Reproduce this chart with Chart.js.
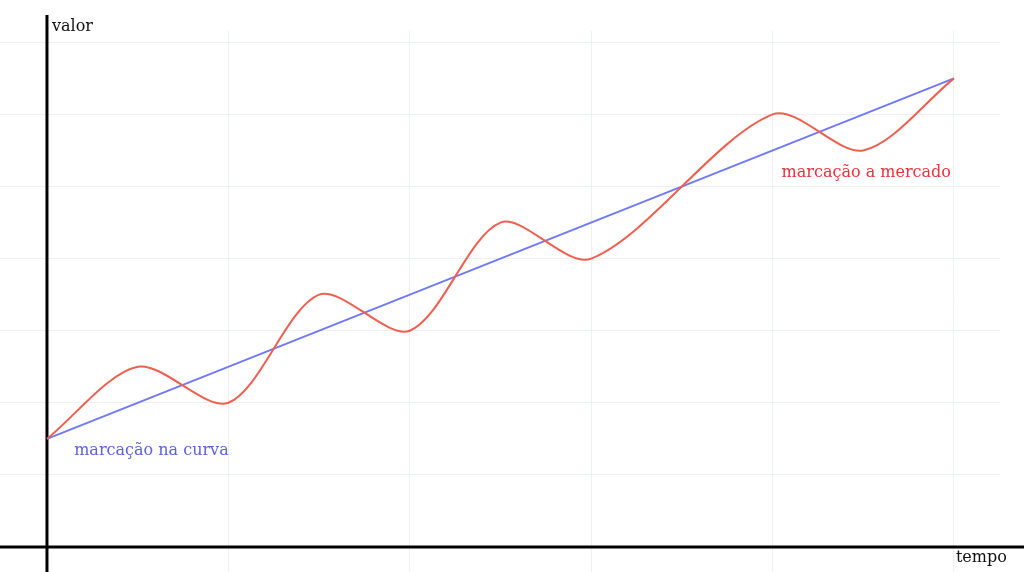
<!DOCTYPE html>
<html>
<head>
<meta charset="utf-8">
<script src="https://cdn.jsdelivr.net/npm/chart.js@4"></script>
<style>
html,body{margin:0;padding:0;background:#fff;}
#wrap{width:1024px;height:572px;position:relative;}
</style>
</head>
<body>
<div id="wrap"><canvas id="c" width="1024" height="572"></canvas></div>
<script>
// Data (grid units)
const marketX = [0, 0.5, 1, 1.5, 2, 2.5, 3, 4, 4.5, 5];
const marketY = [1.5, 2.5, 2, 3.5, 3, 4.5, 4, 6, 5.5, 6.5];
const curveX = [0, 5];
const curveY = [1.5, 6.5];
const labels = {
  yAxis: "valor",
  xAxis: "tempo",
  curve: "marcação na curva",
  market: "marcação a mercado"
};

const toPts = (xs, ys) => xs.map((x, i) => ({x: x, y: ys[i]}));

const FONT = '16px "DejaVu Serif", serif';

const overlay = {
  id: 'overlay',
  beforeDatasetsDraw(chart) {
    const {ctx, scales: {x, y}} = chart;
    const x0 = x.getPixelForValue(0), y0 = y.getPixelForValue(0);
    ctx.save();
    ctx.strokeStyle = '#000';
    ctx.lineWidth = 3;
    ctx.beginPath();
    ctx.moveTo(x0, 15); ctx.lineTo(x0, chart.height);
    ctx.moveTo(0, y0); ctx.lineTo(chart.width, y0);
    ctx.stroke();
    ctx.restore();
  },
  afterDraw(chart) {
    const {ctx, scales: {x, y}} = chart;
    const x0 = x.getPixelForValue(0), y0 = y.getPixelForValue(0);
    ctx.save();
    ctx.font = FONT;
    ctx.textBaseline = 'alphabetic';
    ctx.textAlign = 'left';
    ctx.fillStyle = '#111';
    ctx.fillText(labels.yAxis, x0 + 5, 31);
    ctx.fillText(labels.xAxis, x.getPixelForValue(5) + 2, y0 + 15);
    ctx.fillStyle = '#5b62dc';
    ctx.fillText(labels.curve, x.getPixelForValue(0.15), y.getPixelForValue(1.28));
    ctx.fillStyle = '#e8323c';
    ctx.fillText(labels.market, x.getPixelForValue(4.05), y.getPixelForValue(5.13));
    ctx.restore();
  }
};

new Chart(document.getElementById('c'), {
  type: 'scatter',
  data: {
    datasets: [
      {
        data: toPts(curveX, curveY),
        showLine: true,
        borderColor: '#7079f6',
        borderWidth: 2,
        pointRadius: 0,
        order: 2
      },
      {
        data: toPts(marketX, marketY),
        showLine: true,
        borderColor: '#ef5f4f',
        borderWidth: 2,
        pointRadius: 0,
        tension: 0.3,
        order: 1
      }
    ]
  },
  options: {
    responsive: false,
    animation: false,
    events: [],
    layout: {padding: {top: 31, right: 24, left: 0, bottom: 0}},
    plugins: {legend: {display: false}, tooltip: {enabled: false}},
    scales: {
      x: {
        type: 'linear',
        min: -0.259,
        max: 5.254,
        ticks: {display: false, stepSize: 1, includeBounds: false},
        grid: {color: '#eef0f8', lineWidth: 1, drawTicks: false},
        border: {display: false},
        afterFit: s => { s.height = 0; }
      },
      y: {
        type: 'linear',
        min: -0.347,
        max: 7.157,
        ticks: {display: false, stepSize: 1, includeBounds: false},
        grid: {color: '#eef0f8', lineWidth: 1, drawTicks: false},
        border: {display: false},
        afterFit: s => { s.width = 0; }
      }
    }
  },
  plugins: [overlay]
});
</script>
</body>
</html>
